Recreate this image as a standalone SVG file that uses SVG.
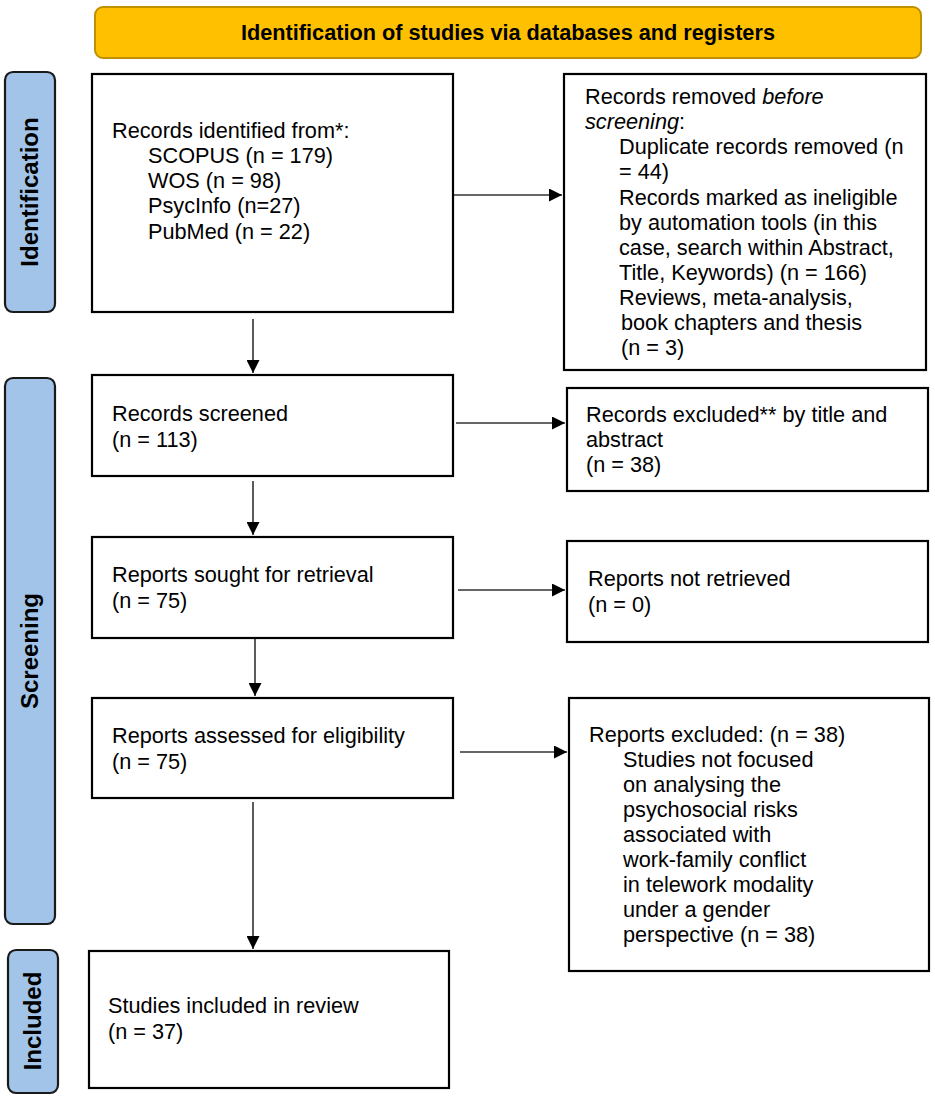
<svg xmlns="http://www.w3.org/2000/svg" width="935" height="1103" viewBox="0 0 935 1103">
<style>
.t{font-family:"Liberation Sans",Arial,sans-serif;font-size:21.7px;fill:#000}
.hd{font-family:"Liberation Sans",Arial,sans-serif;font-size:21.7px;font-weight:bold;fill:#000}
.sd{font-family:"Liberation Sans",Arial,sans-serif;font-size:24px;font-weight:bold;fill:#000}
.box{fill:#fff;stroke:#000;stroke-width:2.2}
.bar{fill:#A3C4E9;stroke:#1a1a1a;stroke-width:2.2}
.ln{stroke:#333;stroke-width:1.6;fill:none}
</style>
<defs>
<marker id="ah" viewBox="0 0 13 13" refX="13" refY="6.5" markerWidth="13" markerHeight="13" markerUnits="userSpaceOnUse" orient="auto">
<path d="M0,0 L13,6.5 L0,13 Z" fill="#000"/>
</marker>
</defs>
<rect width="935" height="1103" fill="#fff"/>
<g id="header">
<rect x="95" y="7" width="826" height="51" rx="8" fill="#FFC000" stroke="#BF9000" stroke-width="2"/>
<text class="hd" x="508" y="40" text-anchor="middle">Identification of studies via databases and registers</text>
</g>
<g id="bar-identification">
<rect class="bar" x="5" y="72" width="50" height="240" rx="8"/>
<text class="sd" transform="translate(38,192) rotate(-90)" text-anchor="middle">Identification</text>
</g>
<g id="bar-screening">
<rect class="bar" x="5" y="378" width="50" height="546" rx="8"/>
<text class="sd" transform="translate(38,651) rotate(-90)" text-anchor="middle">Screening</text>
</g>
<g id="bar-included">
<rect class="bar" x="8" y="950" width="50" height="143" rx="8"/>
<text class="sd" transform="translate(41,1021) rotate(-90)" text-anchor="middle">Included</text>
</g>
<g id="records-identified">
<rect class="box" x="92" y="74" width="361" height="238"/>
<text class="t" x="112" y="138">Records identified from*:</text>
<text class="t" x="148" y="163">SCOPUS (n = 179)</text>
<text class="t" x="148" y="188">WOS (n = 98)</text>
<text class="t" x="148" y="213">PsycInfo (n=27)</text>
<text class="t" x="148" y="239">PubMed (n = 22)</text>
</g>
<g id="records-removed">
<rect class="box" x="564" y="74" width="362" height="296"/>
<text class="t" x="585" y="104">Records removed <tspan font-style="italic">before</tspan></text>
<text class="t" x="585" y="129"><tspan font-style="italic">screening</tspan>:</text>
<text class="t" x="619" y="154">Duplicate records removed (n</text>
<text class="t" x="619" y="179">= 44)</text>
<text class="t" x="619" y="205">Records marked as ineligible</text>
<text class="t" x="619" y="230">by automation tools (in this</text>
<text class="t" x="619" y="255">case, search within Abstract,</text>
<text class="t" x="619" y="280">Title, Keywords) (n = 166)</text>
<text class="t" x="619" y="305">Reviews, meta-analysis,</text>
<text class="t" x="621" y="330">book chapters and thesis</text>
<text class="t" x="621" y="355">(n = 3)</text>
</g>
<g id="records-screened">
<rect class="box" x="92" y="375" width="361" height="101"/>
<text class="t" x="112" y="421">Records screened</text>
<text class="t" x="112" y="447">(n = 113)</text>
</g>
<g id="records-excluded">
<rect class="box" x="567" y="388" width="361" height="103"/>
<text class="t" x="586" y="422">Records excluded** by title and</text>
<text class="t" x="586" y="447">abstract</text>
<text class="t" x="586" y="472">(n = 38)</text>
</g>
<g id="reports-sought">
<rect class="box" x="92" y="537" width="361" height="101"/>
<text class="t" x="112" y="582">Reports sought for retrieval</text>
<text class="t" x="112" y="608">(n = 75)</text>
</g>
<g id="reports-not-retrieved">
<rect class="box" x="567" y="541" width="361" height="101"/>
<text class="t" x="588" y="586">Reports not retrieved</text>
<text class="t" x="588" y="612">(n = 0)</text>
</g>
<g id="reports-assessed">
<rect class="box" x="92" y="698" width="361" height="100"/>
<text class="t" x="112" y="743">Reports assessed for eligibility</text>
<text class="t" x="112" y="769">(n = 75)</text>
</g>
<g id="reports-excluded">
<rect class="box" x="569" y="698" width="360" height="273"/>
<text class="t" x="589" y="742">Reports excluded: (n = 38)</text>
<text class="t" x="623" y="767">Studies not focused</text>
<text class="t" x="623" y="792">on analysing the</text>
<text class="t" x="623" y="817">psychosocial risks</text>
<text class="t" x="623" y="842">associated with</text>
<text class="t" x="623" y="867">work-family conflict</text>
<text class="t" x="623" y="892">in telework modality</text>
<text class="t" x="623" y="917">under a gender</text>
<text class="t" x="623" y="942">perspective (n = 38)</text>
</g>
<g id="studies-included">
<rect class="box" x="89" y="951" width="360" height="137"/>
<text class="t" x="108" y="1013">Studies included in review</text>
<text class="t" x="108" y="1039">(n = 37)</text>
</g>
<g id="connectors">
<line class="ln" x1="253" y1="319" x2="253" y2="373" marker-end="url(#ah)"/>
<line class="ln" x1="253" y1="481" x2="253" y2="535" marker-end="url(#ah)"/>
<line class="ln" x1="255" y1="639" x2="255" y2="696" marker-end="url(#ah)"/>
<line class="ln" x1="253" y1="802" x2="253" y2="949" marker-end="url(#ah)"/>
<line class="ln" x1="454" y1="195" x2="562" y2="195" marker-end="url(#ah)"/>
<line class="ln" x1="456" y1="423" x2="565" y2="423" marker-end="url(#ah)"/>
<line class="ln" x1="458" y1="590" x2="565" y2="590" marker-end="url(#ah)"/>
<line class="ln" x1="460" y1="752" x2="567" y2="752" marker-end="url(#ah)"/>
</g>
</svg>
